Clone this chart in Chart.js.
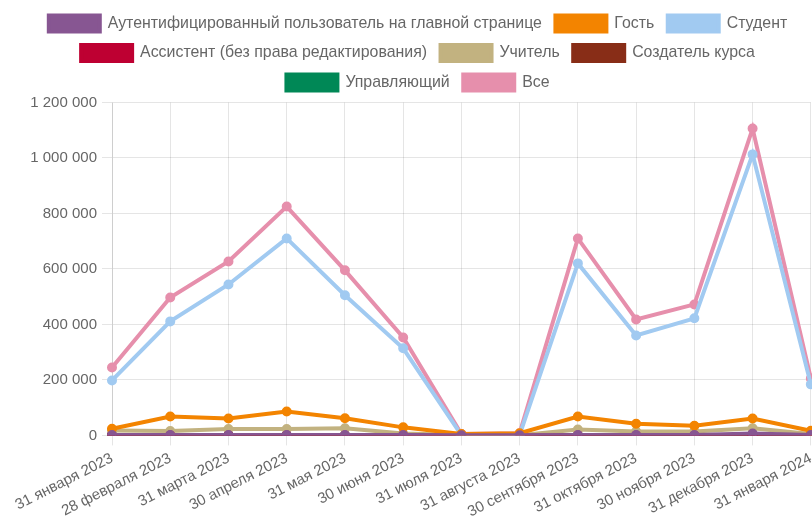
<!DOCTYPE html>
<html><head><meta charset="utf-8">
<script src="https://cdn.jsdelivr.net/npm/chart.js@4"></script>
<style>html,body{margin:0;padding:0;background:#fff;overflow:hidden}#w{width:823px;height:525px}</style>
</head><body><div id="w"><canvas id="c"></canvas></div>
<script>
const labels = ["31 января 2023","28 февраля 2023","31 марта 2023","30 апреля 2023","31 мая 2023","30 июня 2023","31 июля 2023","31 августа 2023","30 сентября 2023","31 октября 2023","30 ноября 2023","31 декабря 2023","31 января 2024"];
const seriesNames = ["Аутентифицированный пользователь на главной странице","Гость","Студент","Ассистент (без права редактирования)","Учитель","Создатель курса","Управляющий","Все"];
const colors = ["#875692","#F38400","#A1CAF1","#BE0032","#C2B280","#882D17","#008856","#E68FAC"];
const authUser = [1000,1000,1000,1000,1000,1000,500,500,1500,1500,1500,7000,1000];
const guest    = [24000,68000,61000,86000,62000,29000,5000,8000,68000,42000,35000,61000,17000];
const student  = [198000,411000,544000,710000,505000,314000,1000,2000,620000,360000,422000,1013000,184000];
const assistant= [0,0,0,0,0,0,0,0,0,0,0,0,0];
const teacher  = [18000,16000,23000,23000,26000,7000,1000,1000,21000,14000,14000,26000,5000];
const creator  = [0,0,0,0,0,0,0,0,0,0,0,0,0];
const manager  = [0,0,0,0,0,0,0,0,0,0,0,0,0];
const all      = [245000,497000,627000,825000,595000,353000,5000,8000,710000,418000,472000,1106000,205000];
const values = [authUser,guest,student,assistant,teacher,creator,manager,all];
const yTicks = [0,200000,400000,600000,800000,1000000,1200000];

const F = "'Liberation Sans', Arial, sans-serif";
Chart.defaults.font.family = F;
Chart.defaults.font.size = 15;
Chart.defaults.color = '#666';

const legendSpace = {id:'legendSpace', beforeInit(chart){
  const fit = chart.legend.fit;
  chart.legend.fit = function(){ fit.bind(chart.legend)(); this.height += 2; };
}};

new Chart(document.getElementById('c'), {
  type: 'line',
  data: {
    labels,
    datasets: seriesNames.map((n,i)=>({
      label: n, data: values[i], borderColor: colors[i], backgroundColor: colors[i],
      borderWidth: 4, pointRadius: 4, pointBorderWidth: 2, pointHoverRadius: 5, fill: false, tension: 0
    }))
  },
  plugins: [legendSpace],
  options: {
    responsive: true, maintainAspectRatio: false, animation: false,
    layout: {padding: {top: 2, left: 13}},
    plugins: {
      legend: {labels: {boxWidth: 51, boxHeight: 16, padding: 13.5, font:{size:15.9}}},
      tooltip: {enabled:false}
    },
    scales: {
      x: {
        grid: {color:'rgba(0,0,0,0.1)', tickLength: 10},
        ticks: {font:{size:15}, minRotation: 27, maxRotation: 27, padding: 4, autoSkip:false}
      },
      y: {
        min: 0, max: 1200000,
        afterBuildTicks: (ax)=>{ ax.ticks = yTicks.map(v=>({value:v})); },
        afterFit: (ax)=>{ ax.width = 99; },
        grid: {color:'rgba(0,0,0,0.1)', tickLength: 10},
        ticks: {font:{size:15}, padding: 5, callback: v=>String(v).replace(/\B(?=(\d{3})+(?!\d))/g,' ')}
      }
    }
  }
});
</script></body></html>
